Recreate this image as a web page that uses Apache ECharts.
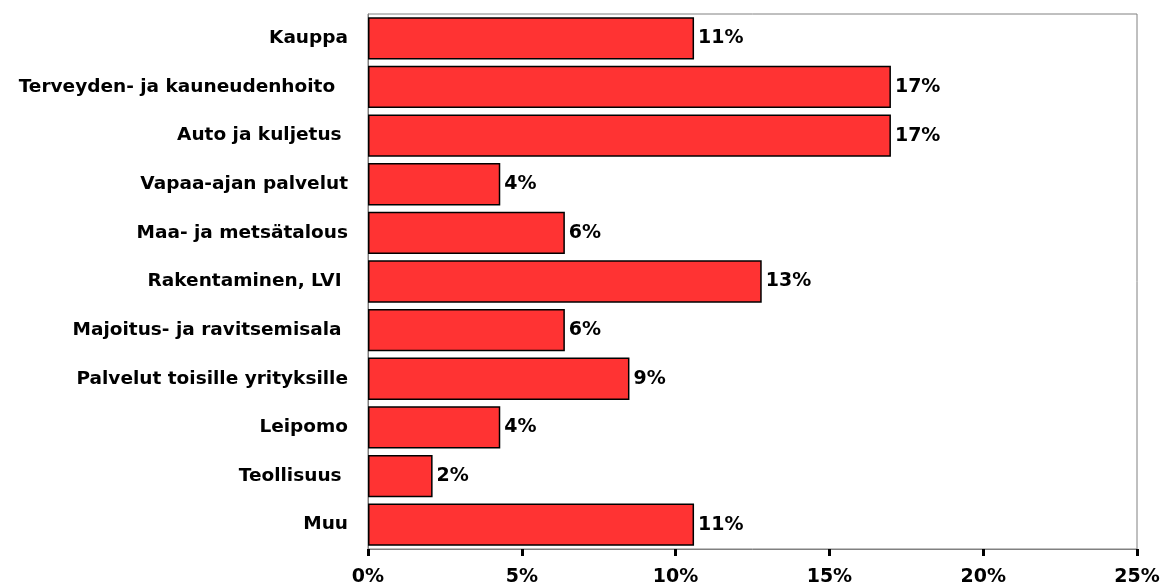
<!DOCTYPE html>
<html>
<head>
<meta charset="utf-8">
<script src="https://cdn.jsdelivr.net/npm/echarts@6.0.0/dist/echarts.min.js"></script>
<style>
  html, body { margin: 0; padding: 0; background: #fff; }
  #chart { width: 1163px; height: 588px; }
</style>
</head>
<body>
<div id="chart"></div>
<script>
// toimialat ylhäältä alas
const categories = [
  'Kauppa',
  'Terveyden- ja kauneudenhoito  ',
  'Auto ja kuljetus ',
  'Vapaa-ajan palvelut',
  'Maa- ja metsätalous',
  'Rakentaminen, LVI ',
  'Majoitus- ja ravitsemisala ',
  'Palvelut toisille yrityksille',
  'Leipomo',
  'Teollisuus ',
  'Muu'
]
// osuudet prosentteina
const shares = [10.6, 17.0, 17.0, 4.3, 6.4, 12.8, 6.4, 8.5, 4.3, 2.1, 10.6]
const xTicks = [0, 5, 10, 15, 20, 25]

const font = '"DejaVu Sans", sans-serif'
const chart = echarts.init(document.getElementById('chart'))

chart.setOption({
  animation: false,
  grid: { left: 368, right: 26, top: 14, bottom: 39, containLabel: false, show: true, borderColor: '#808080', borderWidth: 1 },
  xAxis: {
    type: 'value',
    min: xTicks[0],
    max: xTicks[xTicks.length - 1],
    interval: 5,
    axisLine: { show: true, lineStyle: { color: '#808080', width: 1 } },
    axisTick: { show: true, inside: false, length: 7, lineStyle: { color: '#000', width: 3 } },
    splitLine: { show: false },
    axisLabel: { formatter: '{value}%', color: '#000', fontFamily: font, fontWeight: 'bold', fontSize: 19, margin: 19 }
  },
  yAxis: {
    type: 'category',
    inverse: true,
    data: categories,
    axisLine: { show: true, lineStyle: { color: '#808080', width: 1 } },
    axisTick: { show: false },
    axisLabel: { color: '#000', fontFamily: font, fontWeight: 'bold', fontSize: 18.5, margin: 20 }
  },
  series: [{
    type: 'bar',
    data: shares,
    barCategoryGap: '13%',
    itemStyle: { color: '#FF3333', borderColor: '#000', borderWidth: 1.5 },
    label: {
      show: true,
      position: 'right',
      distance: 4,
      color: '#000',
      fontFamily: font,
      fontWeight: 'bold',
      fontSize: 19,
      formatter: p => Math.round(p.value) + '%'
    }
  }]
})
</script>
</body>
</html>
